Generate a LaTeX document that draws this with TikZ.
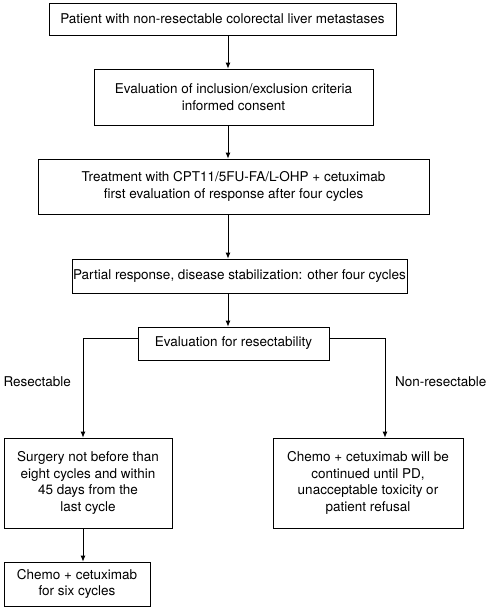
\documentclass[tikz,border=0pt]{standalone}
\usepackage{fontspec}
\setmainfont{TeX Gyre Heros}
\usetikzlibrary{arrows.meta}

\tikzset{
    stage/.style={draw, line width=0.8pt, align=center, inner sep=0pt,
        font=\fontsize{13.5}{16.8}\selectfont},
    flow/.style={line width=0.8pt, -{Latex[length=6pt,width=5pt]}},
    branch/.style={font=\fontsize{13.5}{16.8}\selectfont}
}

\begin{document}
\begin{tikzpicture}[x=1pt, y=-1pt]
\useasboundingbox (0,0) rectangle (490,608);
\node [stage, minimum width=347, minimum height=32] (patient) at (222.5,19) {Patient with non-resectable colorectal liver metastases};
\node [stage, minimum width=279, minimum height=56] (criteria) at (233.5,97) {Evaluation of inclusion/exclusion criteria\\informed consent};
\node [stage, minimum width=391, minimum height=55] (treat) at (233.5,186.5) {Treatment with CPT11/5FU-FA/L-OHP + cetuximab\\first evaluation of response after four cycles};
\node [stage, minimum width=335, minimum height=34] (partial) at (239.5,276) {Partial response, disease stabilization: other four cycles};
\node [stage, minimum width=191, minimum height=33] (eval) at (233.5,343.5) {Evaluation for resectability};
\node [stage, minimum width=168, minimum height=90] (surgery) at (88,483) {Surgery not before than\\eight cycles and within\\45 days from the\\last cycle};
\node [stage, minimum width=190, minimum height=90] (continued) at (368,483) {Chemo + cetuximab will be\\continued until PD,\\unacceptable toxicity or\\patient refusal};
\node [stage, minimum width=146, minimum height=44] (six) at (77,584) {Chemo + cetuximab\\for six cycles};

\coordinate (spine) at (228,0);
\coordinate (leftx) at (83,0);
\coordinate (rightx) at (385,0);
\coordinate (split) at (0,338);

% main column
\foreach \a/\b in {patient/criteria, criteria/treat, treat/partial, partial/eval} {
    \draw [flow] (\a.south -| spine) -- (\b.north -| spine);
}
% branches
\draw [flow] (eval.west |- split) -| (surgery.north -| leftx);
\draw [flow] (eval.east |- split) -| (continued.north -| rightx);
\draw [flow] (surgery.south -| leftx) -- (six.north -| leftx);

\node [branch, anchor=west] (yes) at (0,382) {Resectable};
\node [branch, anchor=east] (no) at (490,382) {Non-resectable};
\end{tikzpicture}
\end{document}
